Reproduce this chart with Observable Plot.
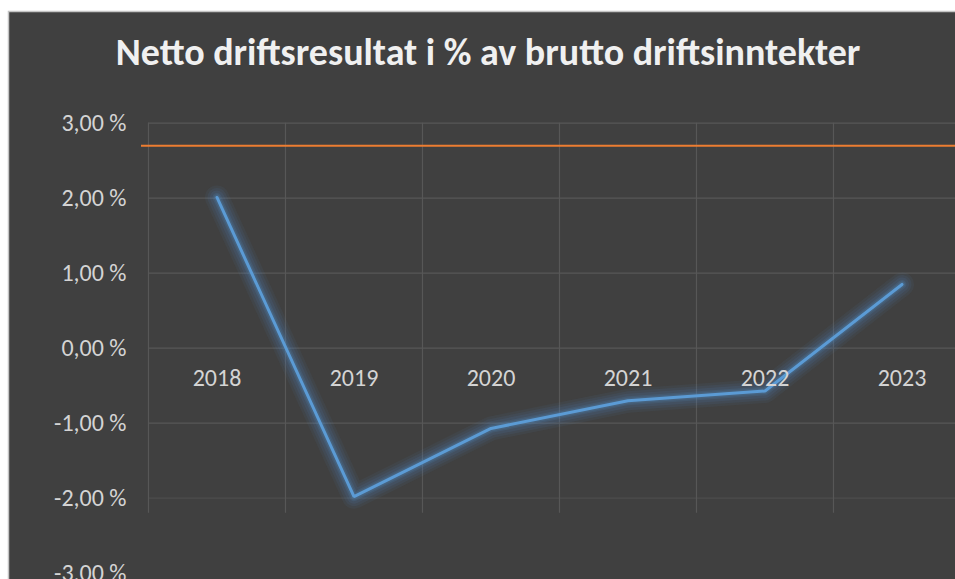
<!DOCTYPE html>
<html><head><meta charset="utf-8">
<script src="https://cdn.jsdelivr.net/npm/d3@7"></script>
<script src="https://cdn.jsdelivr.net/npm/@observablehq/plot@0.6"></script>
<style>
html,body{margin:0;padding:0;background:#fff;}
#chart{position:relative;width:955px;height:579px;overflow:hidden;}
#chart svg{display:block;}
</style></head><body><div id="chart"></div>
<script>
const title = "Netto driftsresultat i % av brutto driftsinntekter";
const years = [2018, 2019, 2020, 2021, 2022, 2023];
const values = [2.01, -1.98, -1.07, -0.70, -0.57, 0.85];
const target = 2.70;
const yTicks = [3, 2, 1, 0, -1, -2, -3];

const data = years.map((year, i) => ({year, value: values[i]}));
const bounds = years.map(y => y - 0.5).concat([years[years.length - 1] + 0.5]);
const fmt = d => (d < 0 ? "-" : "") + Math.abs(d).toFixed(2).replace(".", ",") + " %";
const x0 = years[0] - 0.5, xEnd = years[years.length - 1] + 1.5;
const font = "Carlito, 'Open Sans', sans-serif";
const glowLayers = [[24, 0.07], [19, 0.09], [14, 0.11], [9, 0.15], [6, 0.2]];

const chart = Plot.plot({
  width: 955,
  height: 579,
  marginLeft: 8, marginTop: 11, marginRight: -30, marginBottom: -30,
  style: {background: "#ffffff", fontFamily: font, overflow: "hidden"},
  x: {type: "linear", domain: [years[0] - 0.5, years[years.length - 1] + 0.5], range: [148, 970], axis: null},
  y: {domain: [-3, 3], range: [572.7, 122.7], axis: null},
  marks: [
    Plot.frame({fill: "#404040", stroke: "#c4c4c4", strokeWidth: 1.5}),
    Plot.ruleY(yTicks.filter(d => d >= -2), {y: d => d, x1: x0, x2: xEnd, stroke: "#575757", strokeWidth: 1.2,
      strokeOpacity: d => d < -1.5 ? 0.5 : 1}),
    Plot.ruleX(bounds, {x: d => d, y1: 3, y2: -2.2, stroke: "#575757", strokeWidth: 1.2}),
    Plot.ruleY([target], {y: d => d, x1: x0, x2: xEnd, insetLeft: -7, stroke: "#ed7d31", strokeWidth: 2}),
    ...glowLayers.map(([w, o]) => Plot.line(data, {x: "year", y: "value", stroke: "#4f8ac4", strokeWidth: w,
      strokeOpacity: o, strokeLinejoin: "round", strokeLinecap: "round"})),
    Plot.line(data, {x: "year", y: "value", stroke: "#5b9bd5", strokeWidth: 3,
      strokeLinejoin: "miter", strokeLinecap: "round"}),
    Plot.text(yTicks, {x: x0, y: d => d, text: fmt, textAnchor: "end", dx: -22, fill: "#d4d4d4",
      fontSize: 24, fontFamily: font}),
    Plot.text(years, {x: d => d, y: 0, text: d => String(d), dy: 30, fill: "#d4d4d4",
      fontSize: 24, fontFamily: font}),
    Plot.text([title], {frameAnchor: "top", text: d => d, dx: -9, dy: 53, lineAnchor: "bottom", fill: "#f0f0f0",
      fontSize: 38, fontWeight: "bold", fontFamily: font})
  ]
});

document.getElementById("chart").appendChild(chart);
</script></body></html>
